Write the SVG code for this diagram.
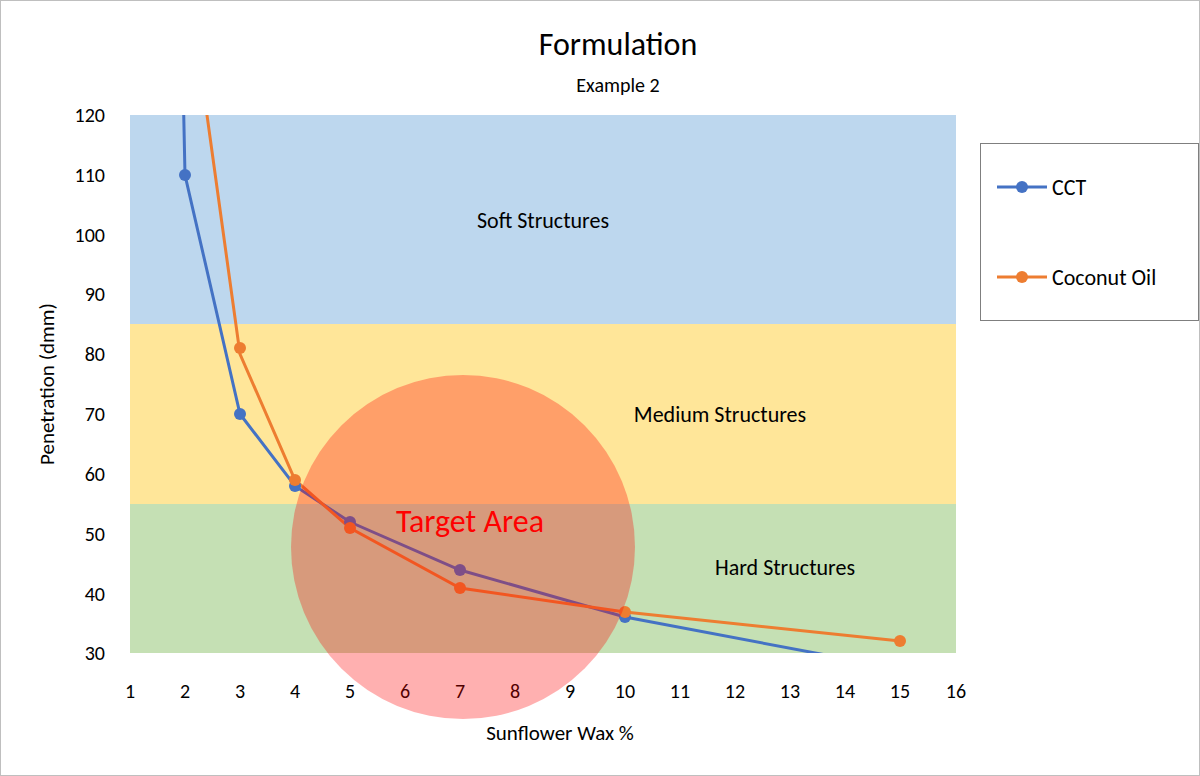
<svg xmlns="http://www.w3.org/2000/svg" width="1200" height="776" viewBox="0 0 1200 776">
<style>
text{font-family:Calibri,"Liberation Sans",Arial,sans-serif;fill:#000}
.tk{font-size:20px}
.bl{font-size:22px;text-anchor:middle}
.cct{stroke:#4472c4;fill:none;stroke-width:3}
.coc{stroke:#ed7d31;fill:none;stroke-width:3}
.mc{fill:#4472c4}
.mo{fill:#ed7d31}
</style>
<defs><clipPath id="pa"><rect x="130" y="115" width="826" height="538"/></clipPath></defs>
<rect x="0.5" y="0.5" width="1199" height="775" fill="#fff" stroke="#bfbfbf"/>
<g id="bands">
<rect x="130" y="115" width="826" height="209" fill="#bdd7ee"/>
<rect x="130" y="324" width="826" height="180" fill="#ffe699"/>
<rect x="130" y="504" width="826" height="149" fill="#c5e0b4"/>
<text class="bl" x="543" y="228">Soft Structures</text>
<text class="bl" x="720" y="422">Medium Structures</text>
<text class="bl" x="785" y="575">Hard Structures</text>
</g>
<text x="618" y="55" font-size="32" text-anchor="middle">Formulation</text>
<text x="618" y="92" font-size="20" text-anchor="middle">Example 2</text>
<g id="yaxis" class="tk" text-anchor="end">
<text x="105" y="122">120</text><text x="105" y="182">110</text><text x="105" y="242">100</text>
<text x="105" y="301">90</text><text x="105" y="361">80</text><text x="105" y="421">70</text>
<text x="105" y="481">60</text><text x="105" y="541">50</text><text x="105" y="601">40</text>
<text x="105" y="660">30</text>
</g>
<g id="xaxis" class="tk" text-anchor="middle">
<text x="130" y="698">1</text><text x="185" y="698">2</text><text x="240" y="698">3</text><text x="295" y="698">4</text>
<text x="350" y="698">5</text><text x="405" y="698">6</text><text x="460" y="698">7</text><text x="515" y="698">8</text>
<text x="570" y="698">9</text><text x="625" y="698">10</text><text x="680" y="698">11</text><text x="735" y="698">12</text>
<text x="790" y="698">13</text><text x="845" y="698">14</text><text x="900" y="698">15</text><text x="956" y="698">16</text>
</g>
<text x="560" y="740" font-size="21" text-anchor="middle">Sunflower Wax %</text>
<text transform="translate(54,384) rotate(-90)" font-size="21" text-anchor="middle">Penetration (dmm)</text>
<g id="connectors" clip-path="url(#pa)">
<polyline class="cct" points="175,-300 185,175 240,414 295,486 350,522 460,570 625,617 900,669"/>
<polyline class="coc" points="185,-44 240,354 295,480 350,528 460,588 625,612 900,641"/>
</g>
<g id="markers">
<circle class="mc" cx="185" cy="175" r="6"/><circle class="mc" cx="240" cy="414" r="6"/><circle class="mc" cx="295" cy="486" r="6"/>
<circle class="mc" cx="350" cy="522" r="6"/><circle class="mc" cx="460" cy="570" r="6"/><circle class="mc" cx="625" cy="617" r="6"/>
<circle class="mo" cx="240" cy="348" r="6"/><circle class="mo" cx="295" cy="480" r="6"/><circle class="mo" cx="350" cy="528" r="6"/>
<circle class="mo" cx="460" cy="588" r="6"/><circle class="mo" cx="625" cy="612" r="6"/><circle class="mo" cx="900" cy="641" r="6"/>
</g>
<g id="target">
<circle cx="463" cy="547" r="172" fill="#ff0000" fill-opacity="0.31"/>
<text x="470" y="532" font-size="32" fill="#ff0000" style="fill:#ff0000" text-anchor="middle">Target Area</text>
</g>
<g id="legend">
<rect x="980.5" y="143.5" width="218" height="177" fill="#fff" stroke="#7f7f7f"/>
<line class="cct" x1="997" y1="187" x2="1047" y2="187"/><circle class="mc" cx="1022" cy="187" r="6"/>
<text x="1052" y="195" font-size="22">CCT</text>
<line class="coc" x1="997" y1="277" x2="1047" y2="277"/><circle class="mo" cx="1022" cy="277" r="6"/>
<text x="1052" y="285" font-size="22">Coconut Oil</text>
</g>
</svg>
